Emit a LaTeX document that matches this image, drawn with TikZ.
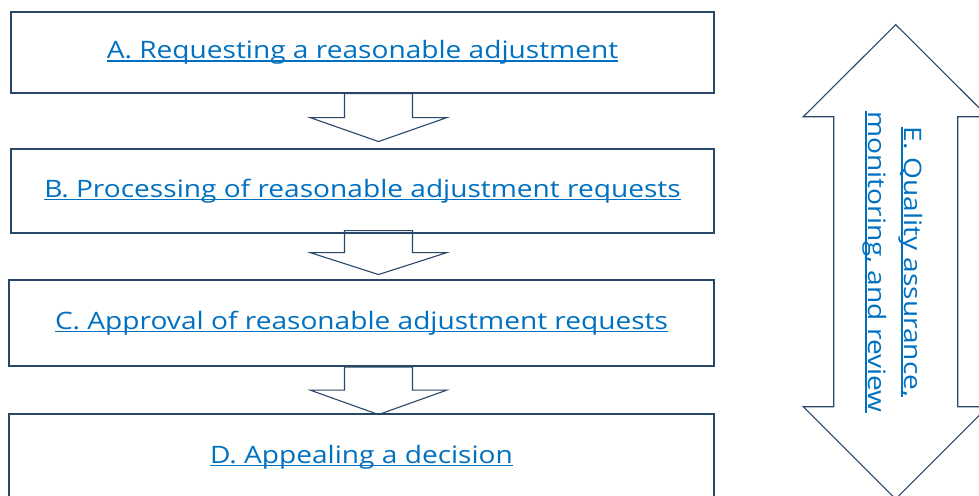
\documentclass[tikz,border=0pt]{standalone}
\usepackage{fontspec}
\setmainfont[FakeStretch=1.17]{Open Sans}
\usetikzlibrary{calc}
\definecolor{edge}{RGB}{41,72,105}
\definecolor{linkblue}{RGB}{0,112,192}
% underlined link-style label
\newsavebox\ulbox
\newcommand\ulink[1]{\sbox\ulbox{#1}\rlap{\rule[-3.4pt]{\wd\ulbox}{1.8pt}}\usebox\ulbox}
\begin{document}
\begin{tikzpicture}[x=1pt,y=-1pt,
  stage/.style={draw=edge, line width=1.1pt, inner sep=0pt, text=linkblue,
    text height=18pt, text depth=6pt, font=\fontsize{24}{29}\selectfont},
  blockarrow/.style={draw=edge, line width=1.1pt, line join=miter},
  pics/downblock/.style n args={2}{code={
    \draw[blockarrow] (-34,0) -- (-34,#1) -- (-68.5,#1) -- (0,#1+#2)
      -- (68.5,#1) -- (34,#1) -- (34,0) -- cycle;}}]
\useasboundingbox (0,0) rectangle (979,495);
\clip (0,0) rectangle (979,495);

% process stages
\node[stage, minimum width=703pt, minimum height=81pt] (A) at (362.5,52.5)
  {\ulink{A. Requesting a reasonable adjustment}};
\node[stage, minimum width=703pt, minimum height=84pt] (B) at (362.5,191)
  {\ulink{B. Processing of reasonable adjustment requests}};
\node[stage, minimum width=705pt, minimum height=86pt] (C) at (361.5,323)
  {\ulink{C. Approval of reasonable adjustment requests}};
\node[stage, minimum width=705pt, minimum height=86pt] (D) at (361.5,457)
  {\ulink{D. Appealing a decision}};

% block arrows between stages
\pic at ($(A.south)+(16,0)$) {downblock={24}{24}};
\pic at ($(B.south)+(16,-3)$) {downblock={22}{22}};
\pic at ($(C.south)+(17,0.5)$) {downblock={23}{24.5}};

% two-headed arrow spanning all stages
\draw[blockarrow] (895.7,24.7) -- (988,116.7) -- (957.7,116.7) -- (957.7,406.7)
  -- (988,406.7) -- (895.7,499) -- (803.3,406.7) -- (833.7,406.7)
  -- (833.7,116.7) -- (803.3,116.7) -- cycle;
\node[rotate=-90, align=center, text=linkblue, inner sep=0pt,
  font=\fontsize{24}{36}\selectfont] (E) at (893,262)
  {\ulink{E. Quality assurance,}\\\ulink{monitoring, and review}};
\end{tikzpicture}
\end{document}
